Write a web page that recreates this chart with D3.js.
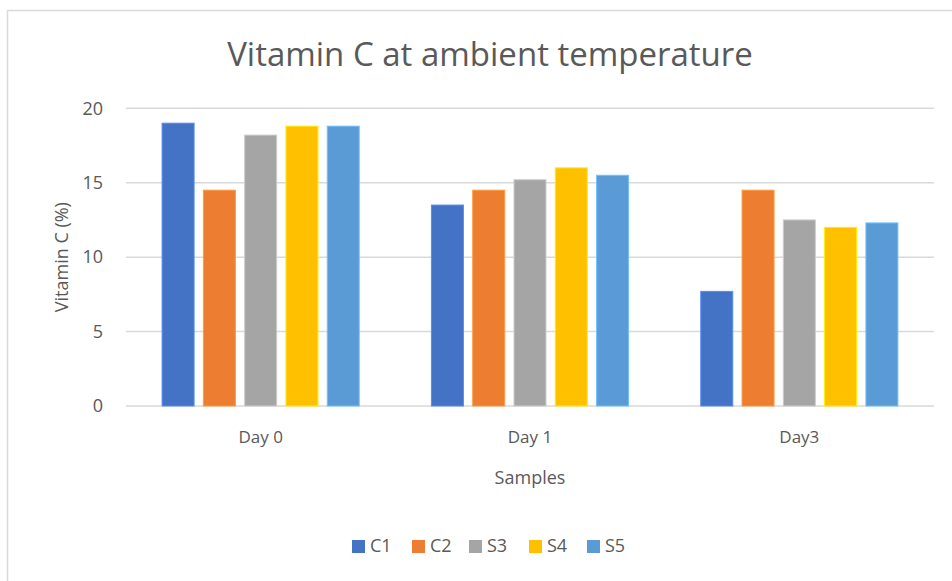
<!DOCTYPE html>
<html>
<head>
<meta charset="utf-8">
<script src="https://cdn.jsdelivr.net/npm/d3@7"></script>
<style>
  html, body { margin: 0; padding: 0; background: #fff; }
  text { font-family: "Open Sans", "Noto Sans", sans-serif; fill: #595959; }
</style>
</head>
<body>
<div id="chart"></div>
<script>
// Data
const days = ["Day 0", "Day 1", "Day3"];
const samples = ["C1", "C2", "S3", "S4", "S5"];
const c1 = [19.0, 13.5, 7.7];
const c2 = [14.5, 14.5, 14.5];
const s3 = [18.2, 15.2, 12.5];
const s4 = [18.8, 16.0, 12.0];
const s5 = [18.8, 15.5, 12.3];
const yTicks = [0, 5, 10, 15, 20];
const colors = ["#4472C4", "#ED7D31", "#A5A5A5", "#FFC000", "#5B9BD5"];

const seriesValues = [c1, c2, s3, s4, s5];

const width = 952, height = 581;
const plot = { left: 126, right: 934, top: 108.3, bottom: 406 };

const svg = d3.select("#chart")
    .append("svg")
    .attr("width", width)
    .attr("height", height);

// chart frame (only top and left edges are visible in the crop)
svg.append("rect")
    .attr("x", 7.5)
    .attr("y", 10.5)
    .attr("width", 1000)
    .attr("height", 1000)
    .attr("fill", "#fff")
    .attr("stroke", "#d9d9d9")
    .attr("stroke-width", 1.5);

const x0 = d3.scaleBand()
    .domain(days)
    .range([plot.left, plot.right])
    .paddingInner(0.268)
    .paddingOuter(0.134);

const x1 = d3.scaleBand()
    .domain(samples)
    .range([0, x0.bandwidth()])
    .paddingInner(0.225);

const y = d3.scaleLinear()
    .domain([0, 20])
    .range([plot.bottom, plot.top]);

// gridlines
svg.append("g")
    .selectAll("line")
    .data(yTicks)
    .enter()
    .append("line")
    .attr("x1", plot.left)
    .attr("x2", plot.right)
    .attr("y1", d => y(d))
    .attr("y2", d => y(d))
    .attr("stroke", "#d9d9d9")
    .attr("stroke-width", 1.5);

// y tick labels
const yAxis = svg.append("g")
    .attr("transform", `translate(${plot.left - 23},0)`)
    .call(d3.axisLeft(y).tickValues(yTicks).tickSize(0).tickPadding(0));
yAxis.select(".domain").remove();
yAxis.selectAll("text")
    .attr("font-size", "18px")
    .attr("font-family", "Open Sans")
    .attr("fill", "#595959");

// bars
const groups = svg.append("g")
    .selectAll("g")
    .data(days)
    .enter()
    .append("g")
    .attr("transform", d => `translate(${x0(d)},0)`);

groups.selectAll("rect")
    .data((d, i) => samples.map((s, j) => ({ s: s, v: seriesValues[j][i], c: colors[j] })))
    .enter()
    .append("rect")
    .attr("x", d => x1(d.s))
    .attr("y", d => y(d.v))
    .attr("width", x1.bandwidth())
    .attr("height", d => y(0) - y(d.v))
    .attr("fill", d => d.c)
    .attr("stroke", d => d3.color(d.c).brighter(0.6))
    .attr("stroke-width", 1);

// category labels
const xAxis = svg.append("g")
    .attr("transform", `translate(0,${plot.bottom + 24})`)
    .call(d3.axisBottom(x0).tickSize(0).tickPadding(0));
xAxis.select(".domain").remove();
xAxis.selectAll("text")
    .attr("font-size", "17px")
    .attr("font-family", "Open Sans")
    .attr("fill", "#595959")
    .attr("dy", "0.75em");

// title
svg.append("text")
    .attr("x", 490)
    .attr("y", 66)
    .attr("text-anchor", "middle")
    .attr("font-size", "33px")
    .text("Vitamin C at ambient temperature");

// axis titles
svg.append("text")
    .attr("x", (plot.left + plot.right) / 2)
    .attr("y", 484)
    .attr("text-anchor", "middle")
    .attr("font-size", "18px")
    .text("Samples");

svg.append("text")
    .attr("transform", `translate(68,${(plot.top + plot.bottom) / 2}) rotate(-90)`)
    .attr("text-anchor", "middle")
    .attr("font-size", "18px")
    .text("Vitamin C (%)");

// legend
const legendX = [352, 412, 469, 529, 587];
const legend = svg.append("g")
    .selectAll("g")
    .data(samples)
    .enter()
    .append("g")
    .attr("transform", (d, i) => `translate(${legendX[i]},540)`);

legend.append("rect")
    .attr("width", 13)
    .attr("height", 13)
    .attr("fill", (d, i) => colors[i]);

legend.append("text")
    .attr("x", 18)
    .attr("y", 12)
    .attr("font-size", "18px")
    .text(d => d);
</script>
</body>
</html>
